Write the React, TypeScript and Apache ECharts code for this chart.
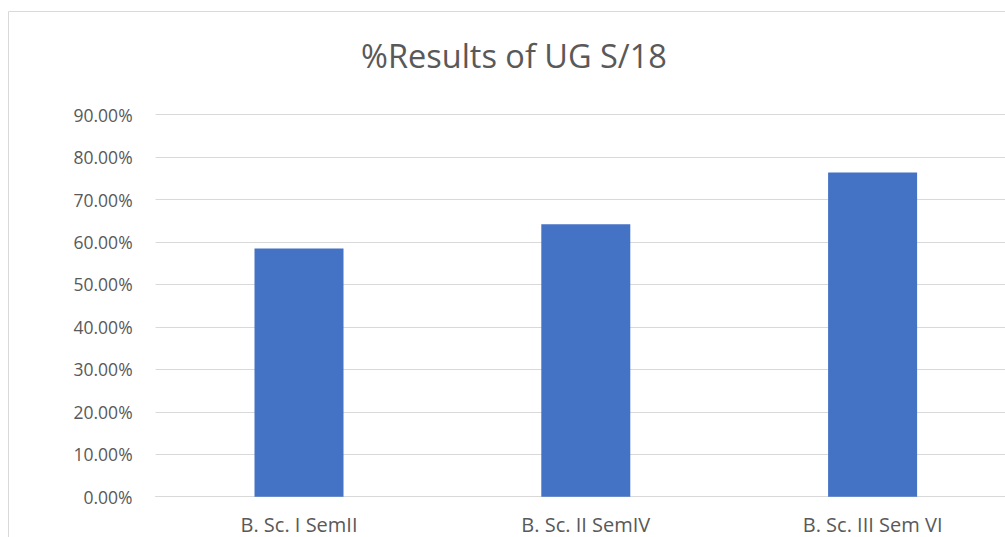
import React, { useEffect, useRef } from "react";
import * as echarts from "echarts";

const titleText = "%Results of UG S/18";
const categories = ["B. Sc. I SemII", "B. Sc. II SemIV", "B. Sc. III Sem VI"];
const resultValues = [0.585, 0.642, 0.764];
const yMin = 0;
const yMax = 0.9;
const yInterval = 0.1;

export default function App() {
  const ref = useRef<HTMLDivElement>(null);

  useEffect(() => {
    if (!ref.current) return;
    const chart = echarts.init(ref.current, null, { renderer: "svg" });
    chart.setOption({
      animation: false,
      backgroundColor: "#ffffff",
      textStyle: { fontFamily: "Open Sans" },
      title: {
        text: titleText,
        left: 509,
        textAlign: "center",
        top: 34,
        textStyle: {
          fontFamily: "Open Sans",
          fontSize: 32.5,
          fontWeight: "normal",
          color: "#595959",
        },
      },
      graphic: [
        {
          type: "rect",
          silent: true,
          shape: { x: 8.5, y: 11.5, width: 1100, height: 600 },
          style: { fill: "none", stroke: "#d9d9d9", lineWidth: 1 },
          z: -1,
        },
      ],
      grid: { left: 155.6, right: 8, top: 114.7, bottom: 40.3, containLabel: false },
      xAxis: {
        type: "category",
        data: categories,
        axisTick: { show: false },
        axisLine: { show: true, lineStyle: { color: "#d9d9d9", width: 1 } },
        axisLabel: {
          color: "#595959",
          fontFamily: "Open Sans",
          fontSize: 20,
          margin: 18,
        },
      },
      yAxis: {
        type: "value",
        min: yMin,
        max: yMax,
        interval: yInterval,
        axisLine: { show: false },
        axisTick: { show: false },
        splitLine: { show: true, lineStyle: { color: "#d9d9d9", width: 1 } },
        axisLabel: {
          color: "#595959",
          fontFamily: "Open Sans",
          fontSize: 17.5,
          margin: 23,
          formatter: (v: number) => (v * 100).toFixed(2) + "%",
        },
      },
      series: [
        {
          type: "bar",
          data: resultValues,
          barWidth: 89,
          itemStyle: { color: "#4472c4" },
        },
      ],
    });
    return () => chart.dispose();
  }, []);

  return (
    <div
      style={{
        position: "absolute",
        left: 0,
        top: 0,
        width: 1005,
        height: 537,
        overflow: "hidden",
      }}
    >
      <div ref={ref} style={{ width: 1024, height: 537 }} />
    </div>
  );
}
